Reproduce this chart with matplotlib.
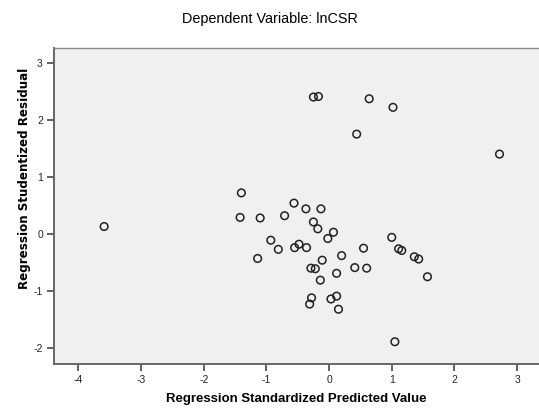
#!/usr/bin/env python3
"""Scatterplot of studentized residuals vs standardized predicted values (lnCSR)."""

import matplotlib
matplotlib.use('Agg')
import matplotlib.pyplot as plt

# values
pred_std = [-3.59, -1.40, -1.42, -1.10, -0.71, -0.56, -0.37, -0.13, -0.25, -0.18,
            0.07, -0.02, -0.93, -0.81, -1.14, -0.55, -0.48, -0.36, 0.20, -0.11,
            -0.29, -0.22, 0.12, 0.41, -0.14, -0.28, -0.31, 0.03, 0.12, 0.15,
            -0.25, -0.17, 0.44, 0.64, 1.02, 2.72, 0.55, 0.60, 1.00, 1.11,
            1.16, 1.36, 1.43, 1.57, 1.05]
resid_stud = [0.13, 0.72, 0.29, 0.28, 0.32, 0.54, 0.44, 0.44, 0.21, 0.09,
              0.03, -0.08, -0.11, -0.27, -0.43, -0.24, -0.18, -0.24, -0.38, -0.46,
              -0.60, -0.61, -0.69, -0.59, -0.81, -1.12, -1.23, -1.14, -1.09, -1.32,
              2.40, 2.41, 1.75, 2.37, 2.22, 1.40, -0.25, -0.60, -0.06, -0.26,
              -0.29, -0.40, -0.44, -0.75, -1.89]

x_ticks = [-4, -3, -2, -1, 0, 1, 2, 3]
y_ticks = [-2, -1, 0, 1, 2, 3]

title = 'Dependent Variable: lnCSR'
x_label = 'Regression Standardized Predicted Value'
y_label = 'Regression Studentized Residual'

FONT = ['Liberation Sans Narrow', 'Liberation Sans', 'DejaVu Sans']
plt.rcParams['font.family'] = FONT
plt.rcParams['axes.unicode_minus'] = False   # SPSS prints a plain hyphen

fig = plt.figure(figsize=(5.39, 4.12), dpi=100)
ax = fig.add_axes([0.1002, 0.1165, 0.8998, 0.767])
ax.set_facecolor('#f0f0f0')

ax.scatter(pred_std, resid_stud, s=30, facecolors='none',
           edgecolors='#222222', linewidths=1.1, zorder=3)

ax.set_xlim(-4.39, 3.35)
ax.set_ylim(-2.28, 3.26)
ax.set_xticks(x_ticks)
ax.set_yticks(y_ticks)
ax.tick_params(direction='out', length=5, width=1.3, color='#555555',
               labelsize=7.5, labelcolor='#222222', pad=3)

for side in ('left', 'bottom'):
    ax.spines[side].set_color('#666666')
    ax.spines[side].set_linewidth(1.4)
ax.spines['top'].set_color('#888888')
ax.spines['top'].set_linewidth(1.0)
ax.spines['right'].set_visible(False)

ax.set_xlabel(x_label, fontsize=9.5, fontweight='bold', labelpad=6)
# the y title in the reference is set in a wider face, and sits above centre
ax.set_ylabel(y_label, fontsize=8.6, fontweight='bold',
              family=['DejaVu Sans'])
ax.yaxis.set_label_coords(-0.047, 0.589)
fig.text(0.50, 0.955, title, ha='center', va='center', fontsize=10.4)

fig.savefig('out.png', dpi=100)
plt.close(fig)
